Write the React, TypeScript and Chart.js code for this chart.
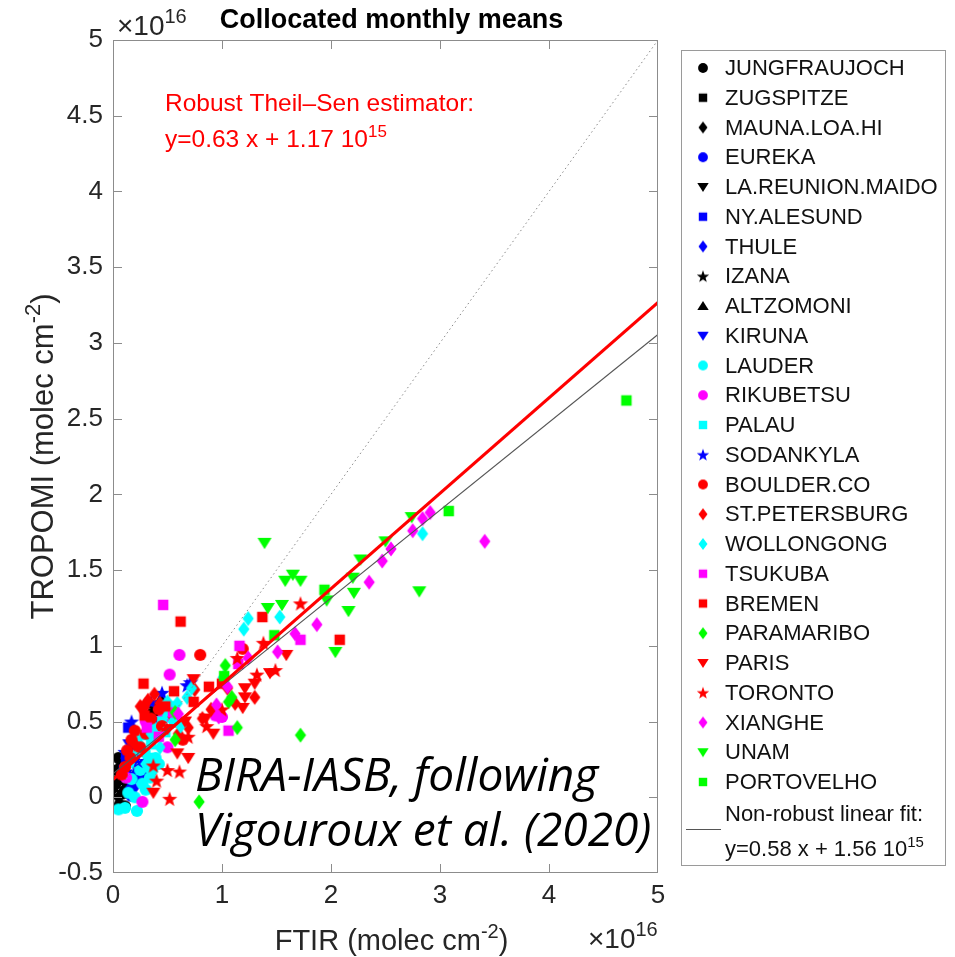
import React, { useEffect, useRef } from 'react';
import { Chart, registerables } from 'chart.js';
Chart.register(...registerables);

type P = [number, number];

// ---- Data (units of 1e16 molec cm^-2) ----
const JUNGFRAUJOCH: P[] = [[0.06,-0.05],[0.05,0.06],[0.08,0.13],[0.1,0.24],[0.07,0.2],[0.12,0.03],[0.04,0.1],[0.09,0.16],[0.11,-0.06],[0.05,0.26]];
const ZUGSPITZE: P[] = [[0.05,0.08],[0.07,0.15],[0.09,0.21],[0.06,0.02],[0.04,0.18]];
const MAUNA_LOA: P[] = [[0.03,0.04],[0.04,0.12],[0.05,0.0]];
const LA_REUNION: P[] = [[0.06,0.0],[0.08,0.07],[0.1,0.11]];
const EUREKA: P[] = [[0.15,0.05],[0.14,0.08],[0.2,0.13],[0.17,0.01],[0.12,0.1]];
const NY_ALESUND: P[] = [[0.14,0.46],[0.12,0.26],[0.18,0.15],[0.1,0.18]];
const THULE: P[] = [[0.16,0.11],[0.22,0.2],[0.25,0.14],[0.19,0.06]];
const IZANA: P[] = [[0.04,0.03],[0.06,0.09]];
const ALTZOMONI: P[] = [[0.4,0.6],[0.36,0.57],[0.3,0.62],[0.44,0.65],[0.33,0.55]];
const KIRUNA: P[] = [[0.2,0.31],[0.26,0.22],[0.3,0.17],[0.15,0.35],[0.42,0.5]];
const LAUDER: P[] = [[0.05,-0.08],[0.22,-0.09],[0.11,-0.07],[0.27,0.09],[0.2,0.0],[0.3,0.05],[0.39,0.26],[0.34,0.13],[0.25,0.18],[0.17,0.12],[0.32,0.2],[0.14,0.03],[0.36,0.18],[0.29,0.3],[0.42,0.22],[0.24,0.34],[0.19,0.23]];
const RIKUBETSU: P[] = [[0.61,0.94],[0.52,0.81],[0.12,0.13],[0.27,-0.03],[0.5,0.33],[0.94,0.54],[1.0,0.53],[0.3,0.5],[0.46,0.52]];
const PALAU: P[] = [[0.29,0.41],[0.22,0.38],[0.38,0.46],[0.45,0.5],[0.32,0.26],[0.41,0.4],[0.5,0.55],[0.26,0.3],[0.48,0.43],[0.55,0.6],[0.35,0.35],[0.18,0.28]];
const SODANKYLA: P[] = [[0.45,0.69],[0.17,0.5],[0.11,0.3],[0.71,0.76],[0.68,0.74],[0.23,0.24],[0.35,0.63]];
const BOULDER: P[] = [[0.8,0.94],[1.19,0.98],[0.64,0.38],[0.17,0.38],[0.11,0.2],[0.16,0.26],[0.25,0.33],[0.2,0.44],[0.35,0.52],[0.08,0.15],[0.13,0.31],[0.3,0.42],[0.45,0.47],[0.57,0.5],[0.28,0.6],[0.42,0.58]];
const ST_PETERSBURG: P[] = [[0.32,0.64],[0.43,0.62],[0.69,0.46],[0.75,0.71],[1.3,0.66],[1.12,0.62],[0.9,0.58],[0.55,0.53],[0.6,0.42],[0.25,0.6],[1.05,0.72],[0.2,0.35],[0.38,0.68],[0.82,0.52]];
const WOLLONGONG: P[] = [[1.24,1.18],[1.2,1.11],[1.53,1.19],[2.84,1.74],[1.01,0.79],[0.59,0.62],[0.5,0.63],[0.55,0.5],[0.35,0.42],[0.43,0.33],[0.62,0.47],[0.72,0.72],[0.3,0.22],[0.68,0.66]];
const TSUKUBA: P[] = [[0.46,1.27],[1.72,1.04],[1.16,1.0],[1.15,0.88],[1.06,0.44],[0.31,0.46],[0.42,0.4],[0.55,0.56]];
const BREMEN: P[] = [[0.62,1.16],[0.28,0.75],[1.37,1.19],[0.88,0.73],[2.08,1.04],[0.74,0.63],[0.29,0.54],[0.48,0.6],[1.0,0.75],[0.56,0.7]];
const PARAMARIBO: P[] = [[0.57,0.56],[0.57,0.38],[0.79,-0.03],[1.03,0.87],[1.09,0.66],[1.06,0.63],[1.14,0.46],[1.72,0.41]];
const PARIS: P[] = [[0.74,0.78],[0.69,0.26],[0.37,0.03],[1.21,0.72],[1.59,0.94],[1.19,0.59],[1.21,0.66],[0.59,0.29],[0.92,0.42],[0.85,0.52],[0.5,0.45],[1.44,0.82],[1.3,0.75],[0.66,0.5]];
const TORONTO: P[] = [[1.72,1.28],[1.49,0.84],[1.38,1.02],[1.32,0.81],[1.14,0.92],[0.86,0.47],[0.61,0.17],[0.5,0.18],[0.4,0.11],[0.52,-0.01],[0.37,0.21],[1.0,0.58],[0.69,0.4]];
const XIANGHE: P[] = [[3.41,1.69],[2.91,1.88],[2.84,1.84],[2.75,1.76],[2.55,1.64],[2.47,1.56],[2.35,1.42],[1.87,1.14],[1.67,1.08],[1.51,0.96],[0.95,0.61],[1.05,0.73],[0.97,0.53],[1.24,0.92],[0.6,0.55]];
const UNAM: P[] = [[1.39,1.68],[1.58,1.43],[1.65,1.47],[1.72,1.43],[1.42,1.25],[1.55,1.27],[2.27,1.57],[2.2,1.45],[2.21,1.35],[2.16,1.23],[2.04,0.96],[2.5,1.69],[2.74,1.85],[2.81,1.36],[1.96,1.3]];
const PORTOVELHO: P[] = [[4.71,2.62],[3.08,1.89],[1.94,1.37],[1.48,1.07],[1.02,0.8]];

const ROBUST_FIT: P[] = [[0, 0.117], [5, 3.267]];
const LINEAR_FIT: P[] = [[0, 0.156], [5, 3.056]];
const ONE_TO_ONE: P[] = [[0, 0], [5, 5]];

const X_MIN = 0, X_MAX = 5, X_STEP = 1;
const Y_MIN = -0.5, Y_MAX = 5, Y_STEP = 0.5;

const K = '#000000', B = '#0000ff', C = '#00ffff', M = '#ff00ff', R = '#ff0000', G = '#00ff00';

const STATIONS: { name: string; color: string; shape: string; data: P[] }[] = [
  { name: 'JUNGFRAUJOCH', color: K, shape: 'circle', data: JUNGFRAUJOCH },
  { name: 'ZUGSPITZE', color: K, shape: 'square', data: ZUGSPITZE },
  { name: 'MAUNA.LOA.HI', color: K, shape: 'diamond', data: MAUNA_LOA },
  { name: 'EUREKA', color: B, shape: 'circle', data: EUREKA },
  { name: 'LA.REUNION.MAIDO', color: K, shape: 'tdown', data: LA_REUNION },
  { name: 'NY.ALESUND', color: B, shape: 'square', data: NY_ALESUND },
  { name: 'THULE', color: B, shape: 'diamond', data: THULE },
  { name: 'IZANA', color: K, shape: 'star', data: IZANA },
  { name: 'ALTZOMONI', color: K, shape: 'tup', data: ALTZOMONI },
  { name: 'KIRUNA', color: B, shape: 'tdown', data: KIRUNA },
  { name: 'LAUDER', color: C, shape: 'circle', data: LAUDER },
  { name: 'RIKUBETSU', color: M, shape: 'circle', data: RIKUBETSU },
  { name: 'PALAU', color: C, shape: 'square', data: PALAU },
  { name: 'SODANKYLA', color: B, shape: 'star', data: SODANKYLA },
  { name: 'BOULDER.CO', color: R, shape: 'circle', data: BOULDER },
  { name: 'ST.PETERSBURG', color: R, shape: 'diamond', data: ST_PETERSBURG },
  { name: 'WOLLONGONG', color: C, shape: 'diamond', data: WOLLONGONG },
  { name: 'TSUKUBA', color: M, shape: 'square', data: TSUKUBA },
  { name: 'BREMEN', color: R, shape: 'square', data: BREMEN },
  { name: 'PARAMARIBO', color: G, shape: 'diamond', data: PARAMARIBO },
  { name: 'PARIS', color: R, shape: 'tdown', data: PARIS },
  { name: 'TORONTO', color: R, shape: 'star', data: TORONTO },
  { name: 'XIANGHE', color: M, shape: 'diamond', data: XIANGHE },
  { name: 'UNAM', color: G, shape: 'tdown', data: UNAM },
  { name: 'PORTOVELHO', color: G, shape: 'square', data: PORTOVELHO },
];

const FONT = '"Liberation Sans", Arial, sans-serif';
const TXT = '#262626';
const AXIS = '#8c8c8c';

function makeMarker(shape: string, color: string, k: number): HTMLCanvasElement {
  const S = 22;
  const c = document.createElement('canvas');
  c.width = S; c.height = S;
  const g = c.getContext('2d')!;
  g.fillStyle = color;
  g.translate(S / 2, S / 2);
  g.scale(k, k);
  g.beginPath();
  if (shape === 'circle') {
    g.arc(0, 0, 5, 0, Math.PI * 2);
  } else if (shape === 'square') {
    g.rect(-4.3, -4.3, 8.6, 8.6);
  } else if (shape === 'diamond') {
    g.moveTo(0, -6.2); g.lineTo(4.6, 0); g.lineTo(0, 6.2); g.lineTo(-4.6, 0);
  } else if (shape === 'tdown') {
    g.moveTo(-5.8, -4.2); g.lineTo(5.8, -4.2); g.lineTo(0, 5.2);
  } else if (shape === 'tup') {
    g.moveTo(-5.8, 4.2); g.lineTo(5.8, 4.2); g.lineTo(0, -5.2);
  } else if (shape === 'star') {
    const ro = 6.6, ri = 2.7;
    for (let i = 0; i < 10; i++) {
      const r = i % 2 === 0 ? ro : ri;
      const a = -Math.PI / 2 + (i * Math.PI) / 5;
      const x = r * Math.cos(a), y = r * Math.sin(a) + 0.6;
      if (i === 0) g.moveTo(x, y); else g.lineTo(x, y);
    }
  }
  g.closePath();
  g.fill();
  return c;
}

type Part = { t: string; sup?: boolean };
function drawRich(ctx: CanvasRenderingContext2D, x: number, y: number, parts: Part[], size: number, color: string, align: 'left' | 'center' | 'right' = 'left', weight = '') {
  ctx.save();
  ctx.fillStyle = color;
  ctx.textBaseline = 'alphabetic';
  ctx.textAlign = 'left';
  const supSize = Math.round(size * 0.7);
  const widths = parts.map(p => {
    ctx.font = `${weight} ${p.sup ? supSize : size}px ${FONT}`;
    return ctx.measureText(p.t).width;
  });
  const total = widths.reduce((a, b) => a + b, 0);
  let cx = align === 'left' ? x : align === 'center' ? x - total / 2 : x - total;
  parts.forEach((p, i) => {
    ctx.font = `${weight} ${p.sup ? supSize : size}px ${FONT}`;
    ctx.fillText(p.t, cx, p.sup ? y - size * 0.42 : y);
    cx += widths[i];
  });
  ctx.restore();
}

export default function App() {
  const ref = useRef<HTMLCanvasElement>(null);
  useEffect(() => {
    const canvas = ref.current!;
    const plotMarkers = STATIONS.map(s => makeMarker(s.shape, s.color, 1.22));
    const legendMarkers = STATIONS.map(s => makeMarker(s.shape, s.color, 0.98));

    const decor = {
      id: 'decor',
      afterDatasetsDraw(chart: any) {
        const ctx: CanvasRenderingContext2D = chart.ctx;
        const { left, right, top, bottom } = chart.chartArea;
        const xs = chart.scales.x, ys = chart.scales.y;
        ctx.save();
        ctx.strokeStyle = AXIS;
        ctx.lineWidth = 1;
        ctx.strokeRect(left + 0.5, top + 0.5, right - left - 1, bottom - top - 1);
        const TL = 9;
        ctx.beginPath();
        xs.ticks.forEach((t: any) => {
          const px = Math.round(xs.getPixelForValue(t.value)) + 0.5;
          if (px < left + 2 || px > right - 2) return;
          ctx.moveTo(px, bottom); ctx.lineTo(px, bottom - TL);
          ctx.moveTo(px, top); ctx.lineTo(px, top + TL);
        });
        ys.ticks.forEach((t: any) => {
          const py = Math.round(ys.getPixelForValue(t.value)) + 0.5;
          if (py < top + 2 || py > bottom - 2) return;
          ctx.moveTo(left, py); ctx.lineTo(left + TL, py);
          ctx.moveTo(right, py); ctx.lineTo(right - TL, py);
        });
        ctx.stroke();
        ctx.restore();
      },
      afterDraw(chart: any) {
        const ctx: CanvasRenderingContext2D = chart.ctx;
        const { left, right, top, bottom } = chart.chartArea;
        const midX = (left + right) / 2, midY = (top + bottom) / 2;
        // title
        drawRich(ctx, midX + 6, 28, [{ t: 'Collocated monthly means' }], 27, '#000', 'center', 'bold');
        // exponent labels
        drawRich(ctx, left + 4, 35, [{ t: '\u00d710' }, { t: '16', sup: true }], 28, TXT);
        drawRich(ctx, right - 70, 948, [{ t: '\u00d710' }, { t: '16', sup: true }], 28, TXT);
        // axis titles
        drawRich(ctx, midX + 6, 950, [{ t: 'FTIR (molec cm' }, { t: '-2', sup: true }, { t: ')' }], 29, TXT, 'center');
        ctx.save();
        ctx.translate(53, midY);
        ctx.rotate(-Math.PI / 2);
        drawRich(ctx, 0, 0, [{ t: 'TROPOMI (molec cm' }, { t: '-2', sup: true }, { t: ')' }], 31, TXT, 'center');
        ctx.restore();
        // robust fit annotation
        drawRich(ctx, 165, 111, [{ t: 'Robust Theil\u2013Sen estimator:' }], 24.5, '#ff0000');
        drawRich(ctx, 165, 147, [{ t: 'y=0.63 x + 1.17 10' }, { t: '15', sup: true }], 24.5, '#ff0000');
        // attribution
        ctx.save();
        ctx.fillStyle = '#000';
        ctx.font = 'italic 46px "Open Sans", "Noto Sans", sans-serif';
        ctx.textBaseline = 'alphabetic';
        ctx.textAlign = 'left';
        ctx.fillText('BIRA-IASB, following', 195, 791);
        ctx.fillText('Vigouroux et al. (2020)', 195, 846);
        ctx.restore();
        // legend
        ctx.save();
        ctx.fillStyle = '#fff';
        ctx.fillRect(681, 50, 264, 815);
        ctx.strokeStyle = '#9a9a9a';
        ctx.lineWidth = 1;
        ctx.strokeRect(681.5, 50.5, 264, 815);
        ctx.restore();
        const rowH = 29.75;
        STATIONS.forEach((s, i) => {
          const cy = 68 + i * rowH;
          const img = legendMarkers[i];
          ctx.drawImage(img, 703 - img.width / 2, cy - img.height / 2);
          ctx.save();
          ctx.fillStyle = '#111';
          ctx.font = `22px ${FONT}`;
          ctx.textBaseline = 'middle';
          ctx.textAlign = 'left';
          ctx.fillText(s.name, 725, cy + 1);
          ctx.restore();
        });
        ctx.save();
        ctx.strokeStyle = '#555';
        ctx.lineWidth = 1;
        ctx.beginPath();
        ctx.moveTo(686, 829.5); ctx.lineTo(721, 829.5);
        ctx.stroke();
        ctx.restore();
        drawRich(ctx, 725, 821, [{ t: 'Non-robust linear fit:' }], 22, '#111');
        drawRich(ctx, 725, 856, [{ t: 'y=0.58 x + 1.56 10' }, { t: '15', sup: true }], 22, '#111');
      },
    };

    const N = STATIONS.length;
    const datasets: any[] = STATIONS.map((s, i) => ({
      label: s.name,
      data: s.data.map(([x, y]) => ({ x, y })),
      pointStyle: plotMarkers[i],
      pointRadius: 7,
      showLine: false,
      order: N - i + 5,
    }));
    datasets.push({
      label: '1:1',
      data: ONE_TO_ONE.map(([x, y]) => ({ x, y })),
      showLine: true, pointRadius: 0, borderColor: '#8a8a8a', borderWidth: 1, borderDash: [1.5, 3], order: 3,
    });
    datasets.push({
      label: 'Non-robust linear fit',
      data: LINEAR_FIT.map(([x, y]) => ({ x, y })),
      showLine: true, pointRadius: 0, borderColor: '#555555', borderWidth: 1.2, order: 2,
    });
    datasets.push({
      label: 'Robust Theil-Sen',
      data: ROBUST_FIT.map(([x, y]) => ({ x, y })),
      showLine: true, pointRadius: 0, borderColor: '#ff0000', borderWidth: 3, order: 1,
    });

    const chart = new Chart(canvas, {
      type: 'scatter',
      data: { datasets },
      plugins: [decor],
      options: {
        responsive: false,
        animation: false,
        layout: { padding: { left: 0, top: 40, right: 297, bottom: 0 } },
        plugins: { legend: { display: false }, tooltip: { enabled: false }, title: { display: false } },
        scales: {
          x: {
            type: 'linear', min: X_MIN, max: X_MAX,
            ticks: { stepSize: X_STEP, color: TXT, font: { family: FONT, size: 26 }, padding: 7, maxRotation: 0 },
            grid: { display: false, drawTicks: false },
            border: { display: false },
            afterFit: (s: any) => { s.height = 84; },
          },
          y: {
            type: 'linear', min: Y_MIN, max: Y_MAX,
            ticks: {
              stepSize: Y_STEP, color: TXT, font: { family: FONT, size: 26 }, padding: 10,
              callback: (v: any) => String(Math.round(Number(v) * 10) / 10),
            },
            grid: { display: false, drawTicks: false },
            border: { display: false },
            afterFit: (s: any) => { s.width = 113; },
          },
        },
      } as any,
    });
    return () => chart.destroy();
  }, []);
  return (
    <div style={{ position: 'fixed', left: 0, top: 0, width: 955, height: 957, background: '#fff' }}>
      <canvas ref={ref} width={955} height={957} style={{ display: 'block' }} />
    </div>
  );
}
